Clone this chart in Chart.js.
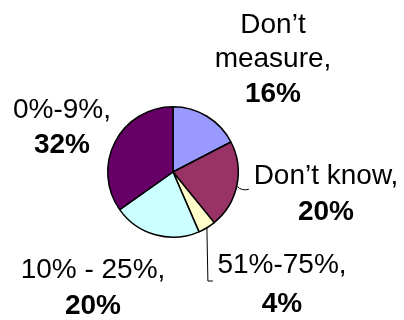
<!DOCTYPE html>
<html>
<head>
<meta charset="utf-8">
<script src="https://cdn.jsdelivr.net/npm/chart.js@4/dist/chart.umd.min.js"></script>
<style>
  html, body { margin: 0; padding: 0; background: #fff; }
  #wrap { width: 404px; height: 320px; }
</style>
</head>
<body>
<div id="wrap"><canvas id="pie"></canvas></div>
<script>
// Data

const categories = ['Don\u2019t measure', 'Don\u2019t know', '51%-75%', '10% - 25%', '0%-9%'];
const percents = [16, 20, 4, 20, 32];
const sliceColors = ['#9999FF', '#993366', '#FFFFCC', '#CCFFFF', '#660066'];

// Label layout: text lines, offset of label centre from pie centre, baselines
const labelLayout = [
  { lines: ['Don\u2019t', 'measure,'], dx: 100, dy: [-139, -105, -70], leader: false },
  { lines: ['Don\u2019t know,'], dx: 153, dy: [12, 48], leader: 'short' },
  { lines: ['51%-75%,'], dx: 109, dy: [101, 140], leader: 'long' },
  { lines: ['10% - 25%,'], dx: -80, dy: [106, 142], leader: false },
  { lines: ['0%-9%,'], dx: -111, dy: [-54, -19], leader: false }
];

const labelPlugin = {
  id: 'outsideLabels',
  afterDatasetsDraw(chart) {
    const ctx = chart.ctx;
    const arcs = chart.getDatasetMeta(0).data;
    ctx.save();
    ctx.fillStyle = '#000';
    ctx.strokeStyle = '#000';
    ctx.lineWidth = 1;
    ctx.textAlign = 'center';
    ctx.textBaseline = 'alphabetic';

    arcs.forEach((arc, i) => {
      const cx = arc.x, cy = arc.y;
      const lay = labelLayout[i];
      const x = cx + lay.dx;

      ctx.font = '28px "Liberation Sans", Arial, sans-serif';
      lay.lines.forEach((t, j) => ctx.fillText(t, x, cy + lay.dy[j]));
      ctx.font = 'bold 28px "Liberation Sans", Arial, sans-serif';
      ctx.fillText(percents[i] + '%', x, cy + lay.dy[lay.lines.length]);

      if (lay.leader) {
        const mid = (arc.startAngle + arc.endAngle) / 2;
        const px = cx + Math.cos(mid) * arc.outerRadius;
        const py = cy + Math.sin(mid) * arc.outerRadius;
        ctx.beginPath();
        if (lay.leader === 'short') {
          ctx.moveTo(px, py + 1);
          ctx.quadraticCurveTo(px + 5, py + 6, px + 12, py + 4);
        } else {
          ctx.moveTo(px, py);
          ctx.lineTo(px + 1, cy + 109);
          ctx.lineTo(px + 6, cy + 109);
        }
        ctx.stroke();
      }
    });
    ctx.restore();
  }
};

const pieChart = new Chart(document.querySelector('#pie'), {
  type: 'pie',
  data: {
    labels: categories,
    datasets: [{
      data: percents,
      backgroundColor: sliceColors,
      borderColor: '#000',
      borderWidth: 1.5
    }]
  },
  options: {
    responsive: true,
    maintainAspectRatio: false,
    animation: false,
    layout: {
      padding: { left: 107, right: 165, top: 106, bottom: 82 }
    },
    plugins: {
      legend: { display: false },
      tooltip: { enabled: false }
    }
  },
  plugins: [labelPlugin]
});
</script>
</body>
</html>
